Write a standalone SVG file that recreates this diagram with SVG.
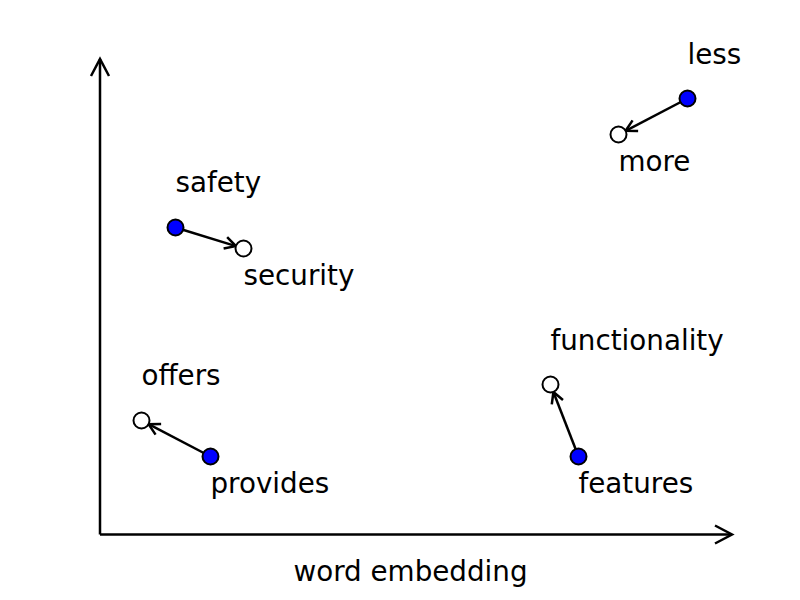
<svg xmlns="http://www.w3.org/2000/svg" width="800" height="600" viewBox="0 0 800 600">
<style>
text{font-family:"DejaVu Sans","Liberation Sans",sans-serif;font-size:27.78px;fill:#000}
.ax{stroke:#000;stroke-width:2.5;fill:none}
.arr{stroke:#000;stroke-width:2.5;fill:none}
.full{fill:#0000ff;stroke:#000;stroke-width:2}
.empty{fill:#fff;stroke:#000;stroke-width:2}
</style>
<defs>
<marker id="ah" markerUnits="userSpaceOnUse" markerWidth="20" markerHeight="20" viewBox="-14 -10 20 20" refX="0" refY="0" orient="auto">
<path d="M-11,-6 L0,0 L-11,6" fill="none" stroke="#000" stroke-width="2.5"/>
</marker>
<marker id="axh" markerUnits="userSpaceOnUse" markerWidth="24" markerHeight="24" viewBox="-20 -12 24 24" refX="0" refY="0" orient="auto">
<path d="M-17,-9 L0,0 L-17,9" fill="none" stroke="#000" stroke-width="2.5"/>
</marker>
</defs>
<rect width="800" height="600" fill="#fff"/>
<g id="axes">
<path class="ax" d="M100,534.5 L100,59" marker-end="url(#axh)"/>
<path class="ax" d="M100,534.5 L732,534.5" marker-end="url(#axh)"/>
<text x="410.5" y="580.5" text-anchor="middle">word embedding</text>
</g>
<g id="connectors">
<path class="arr" d="M687.5,98.5 L625.6,130.8" marker-end="url(#ah)"/>
<path class="arr" d="M175.5,227.5 L235.9,246.1" marker-end="url(#ah)"/>
<path class="arr" d="M210.5,456.5 L148.6,424.2" marker-end="url(#ah)"/>
<path class="arr" d="M578.5,456.5 L553.4,392" marker-end="url(#ah)"/>
</g>
<g id="less"><circle class="full" cx="687.5" cy="98.5" r="8"/><text x="687.5" y="64">less</text></g>
<g id="more"><circle class="empty" cx="618.5" cy="134.5" r="8"/><text x="618.5" y="171">more</text></g>
<g id="safety"><circle class="full" cx="175.5" cy="227.5" r="8"/><text x="175.5" y="192">safety</text></g>
<g id="security"><circle class="empty" cx="243.5" cy="248.5" r="8"/><text x="243.5" y="285">security</text></g>
<g id="provides"><circle class="full" cx="210.5" cy="456.5" r="8"/><text x="210.5" y="493">provides</text></g>
<g id="offers"><circle class="empty" cx="141.5" cy="420.5" r="8"/><text x="141.5" y="385">offers</text></g>
<g id="features"><circle class="full" cx="578.5" cy="456.5" r="8"/><text x="578.5" y="493">features</text></g>
<g id="functionality"><circle class="empty" cx="550.5" cy="384.5" r="8"/><text x="550.5" y="350">functionality</text></g>
</svg>
